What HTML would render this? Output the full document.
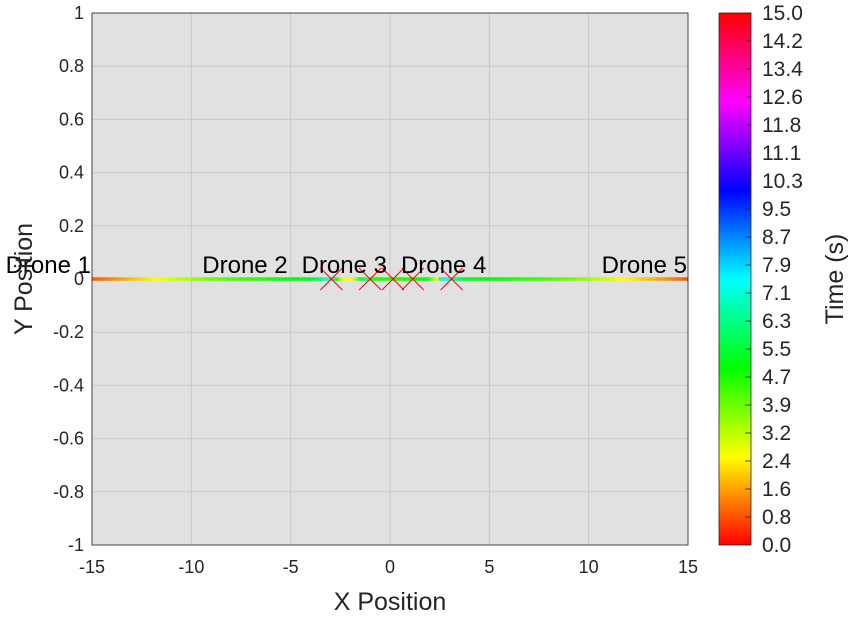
<!DOCTYPE html>
<html><head><meta charset="utf-8"><style>
body{margin:0;background:#fff;font-family:"Liberation Sans",sans-serif}
text{font-family:"Liberation Sans",sans-serif}
</style></head><body>
<svg id="chart" width="855" height="616" xmlns="http://www.w3.org/2000/svg">
<defs>
<linearGradient id="cbg" x1="0" y1="1" x2="0" y2="0">
<stop offset="0" stop-color="#f00"/><stop offset="0.1667" stop-color="#ff0"/><stop offset="0.3333" stop-color="#0f0"/><stop offset="0.5" stop-color="#0ff"/><stop offset="0.6667" stop-color="#00f"/><stop offset="0.8333" stop-color="#f0f"/><stop offset="1" stop-color="#f00"/>
</linearGradient>
</defs>
<rect x="92" y="13" width="596" height="532" fill="#e1e1e1"/>
<g id="grid"></g>
<g id="traj"></g>
<g id="marks"></g>
<g id="labels"></g>
<rect x="92" y="13" width="596" height="532" fill="none" stroke="#262626" stroke-width="0.8"/>
<g id="axes"></g>
<text x="390" y="610" font-size="25" text-anchor="middle" fill="#262626">X Position</text>
<text transform="translate(32,279) rotate(-90)" font-size="25" text-anchor="middle" fill="#262626">Y Position</text>
<rect x="719" y="13" width="32" height="532" fill="url(#cbg)" stroke="#262626" stroke-width="0.8"/>
<g id="cbticks"></g>
<text transform="translate(843,279) rotate(-90)" font-size="25" text-anchor="middle" fill="#262626">Time (s)</text>
</svg>
<script>
const xTicks=[-15,-10,-5,0,5,10,15];
const yTicks=[-1,-0.8,-0.6,-0.4,-0.2,0,0.2,0.4,0.6,0.8,1];
const yTickLabels=["-1","-0.8","-0.6","-0.4","-0.2","0","0.2","0.4","0.6","0.8","1"];
const cbLabels=["0.0","0.8","1.6","2.4","3.2","3.9","4.7","5.5","6.3","7.1","7.9","8.7","9.5","10.3","11.1","11.8","12.6","13.4","14.2","15.0"];
const cbMax=15;
const droneNames=["Drone 1","Drone 2","Drone 3","Drone 4","Drone 5"];
const labelX=[-17.2,-7.3,-2.3,2.7,12.8];
const labelY=[0,0,0,0,0];
const finalX=[-2.95,-1.0,0.15,1.15,3.1];
const finalY=[0,0,0,0,0];
// trajectory samples: x positions and times
const t1x=[-15,-13.5,-12,-10.5,-9,-6,-4,-3.4,-2.95];
const t1t=[0.8,1.6,2.4,3.2,4,4.8,5.2,6.5,7];
const t2x=[-2.95,-2.4,-1.9,-1.5,-1.0];
const t2t=[7,2.6,2.6,5,7];
const t3x=[-1.0,0.15,1.15];
const t3t=[4.8,4.8,4.8];
const t4x=[1.15,1.9,2.4,2.6,3.1];
const t4t=[5,5,2.6,7,7];
const t5x=[15,13.5,12,10.5,9,6,4,3.1];
const t5t=[0.8,1.6,2.4,3.2,4,4.8,5.2,6.5];
const trajX=[t1x,t2x,t3x,t4x,t5x];
const trajT=[t1t,t2t,t3t,t4t,t5t];

const NS="http://www.w3.org/2000/svg";
const X=v=>92+(v+15)/30*596;
const Y=v=>279-v*266;
function mk(tag,attrs,parent){const e=document.createElementNS(NS,tag);for(const k in attrs)e.setAttribute(k,attrs[k]);document.getElementById(parent).appendChild(e);return e;}
function hsv(t){const h=(t/cbMax)*6;const i=Math.floor(h)%6,f=h-Math.floor(h);const q=Math.round(255*(1-f)),p=Math.round(255*f);const c=[[255,p,0],[q,255,0],[0,255,p],[0,q,255],[p,0,255],[255,0,q]][i];return `rgb(${c[0]},${c[1]},${c[2]})`;}
xTicks.forEach(v=>{
 const g=mk('line',{x1:X(v),x2:X(v),y1:13,y2:545,stroke:'#c8c8c8','stroke-width':1},'grid');
 
 
 const t=mk('text',{x:X(v),y:573,'font-size':18,'text-anchor':'middle',fill:'#262626'},'axes');
 t.textContent=v;
 
 
});
yTicks.forEach((v,i)=>{
 const g=mk('line',{x1:92,x2:688,y1:Y(v),y2:Y(v),stroke:'#c8c8c8','stroke-width':1},'grid');
 
 
 const t=mk('text',{x:84,y:Y(v)+6,'font-size':18,'text-anchor':'end',fill:'#262626'},'axes');
 t.textContent=yTickLabels[i];
 
 
});
trajX.forEach((xs,d)=>{
 const ts=trajT[d];
 for(let i=0;i<xs.length-1;i++){
  const n=12;
  for(let k=0;k<n;k++){
   const a=k/n,b=(k+1)/n;
   const xa=xs[i]+(xs[i+1]-xs[i])*a,xb=xs[i]+(xs[i+1]-xs[i])*b;
   const tm=ts[i]+(ts[i+1]-ts[i])*(a+b)/2;
   const l=mk('line',{x1:X(xa),x2:X(xb),y1:Y(0),y2:Y(0),stroke:hsv(tm),'stroke-width':3.5},'traj');
   
   
  }
 }
});
finalX.forEach((v,i)=>{
 const cx=X(v),cy=Y(finalY[i]);
 const p=mk('path',{d:`M${cx-11},${cy-11}L${cx+11},${cy+11}M${cx-11},${cy+11}L${cx+11},${cy-11}`,stroke:'#f00','stroke-width':1,fill:'none'},'marks');
 
 
});
droneNames.forEach((n,i)=>{
 const t=mk('text',{x:X(labelX[i]),y:Y(labelY[i])-6,'font-size':24,'text-anchor':'middle',fill:'#000'},'labels');
 t.textContent=n;
 
 
});
cbLabels.forEach((s,i)=>{
 const y=545-i*(532/19);
 const l=mk('line',{x1:745,x2:751,y1:y,y2:y,stroke:'#262626','stroke-width':0.8},'cbticks');
 
 
 const t=mk('text',{x:762,y:y+7,'font-size':21,fill:'#262626'},'cbticks');
 t.textContent=s;
 
 
});
</script>
</body></html>
